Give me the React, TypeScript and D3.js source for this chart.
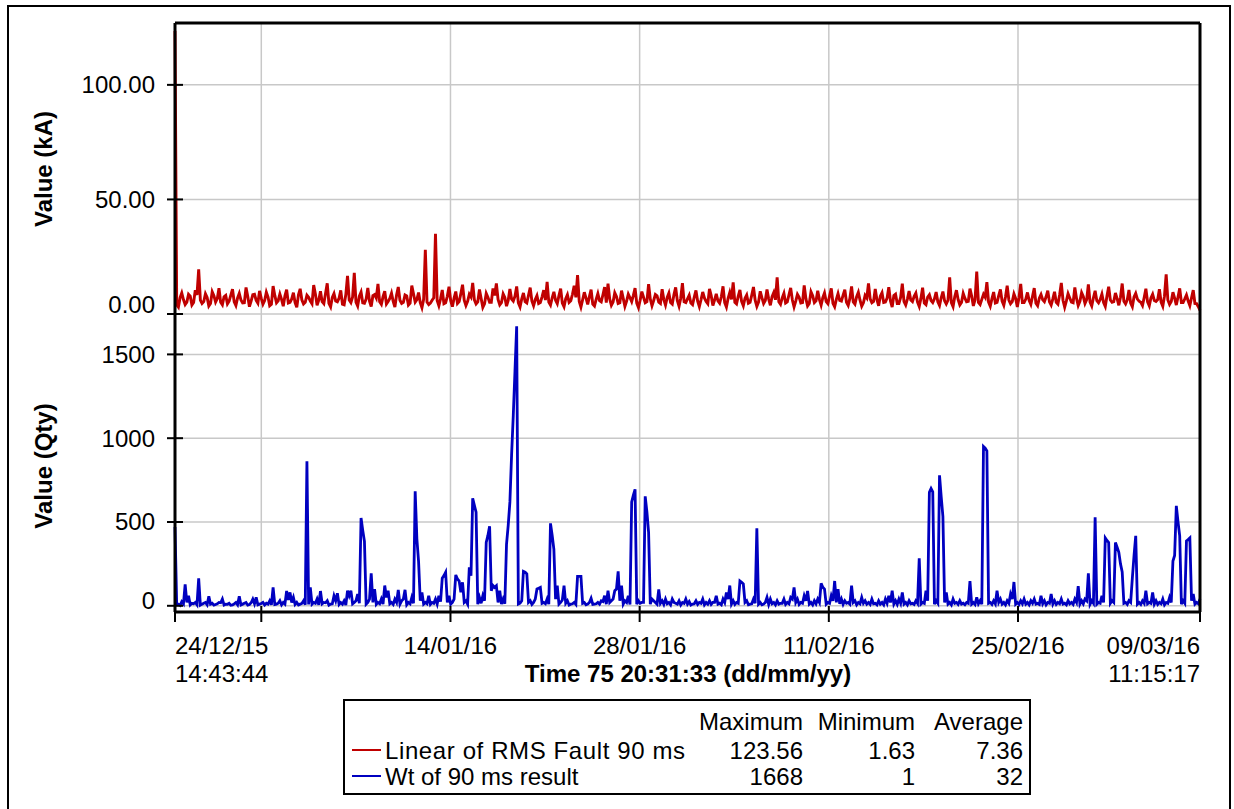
import React from 'react';
import * as d3 from 'd3';

// time span of the record
const startTime = Date.UTC(2015, 11, 24, 14, 43, 44);
const endTime = Date.UTC(2016, 2, 9, 11, 15, 17);

// two-weekly grid lines, first one has no label
const gridDates = [
  Date.UTC(2015, 11, 31),
  Date.UTC(2016, 0, 14),
  Date.UTC(2016, 0, 28),
  Date.UTC(2016, 1, 11),
  Date.UTC(2016, 1, 25)
];
const labelledDates = gridDates.slice(1);

const kaTicks = [0, 50, 100];
const qtyTicks = [0, 500, 1000, 1500];

// Linear of RMS Fault 90 ms (kA), evenly spaced samples over the record
const rmsFault = [
  123.56, 3.0, 9.2, 4.1, 8.6, 3.9, 10.4, 19.5, 4.6, 8.8, 3.5, 9.7, 5.2, 11.3, 4.0, 8.1,
  5.6, 10.8, 3.7, 9.0, 4.8, 11.6, 3.2, 8.4, 5.9, 10.1, 4.3, 9.5, 3.6, 12.2, 4.9, 8.7,
  3.4, 10.6, 5.1, 9.3, 2.9, 11.0, 4.4, 8.2, 5.7, 12.6, 3.8, 9.9, 4.5, 13.4, 3.1, 8.9,
  5.3, 10.3, 4.0, 16.6, 5.0, 18.0, 3.5, 9.6, 4.7, 11.4, 3.3, 8.5, 13.1, 4.2, 10.0, 5.5,
  9.1, 3.0, 11.8, 4.6, 8.3, 3.9, 12.4, 5.2, 9.4, 2.8, 28.0, 4.1, 6.0, 35.0, 3.6, 10.5,
  4.9, 11.9, 3.2, 9.8, 5.4, 12.8, 3.7, 8.6, 13.6, 4.4, 10.7, 2.9, 9.0, 5.1, 11.2, 13.3,
  4.0, 8.8, 3.4, 10.9, 5.6, 12.0, 3.1, 9.2, 4.8, 11.5, 3.6, 8.0, 5.0, 10.4, 14.0, 3.9,
  9.7, 4.5, 11.1, 3.2, 8.4, 5.8, 12.3, 17.0, 3.0, 9.5, 4.2, 10.6, 3.5, 8.9, 5.3, 11.7,
  13.2, 3.8, 9.3, 4.6, 10.2, 3.3, 8.7, 5.4, 11.3, 2.8, 9.8, 4.9, 13.0, 3.6, 8.5, 5.2,
  10.8, 3.9, 9.1, 4.3, 11.6, 3.4, 13.5, 5.0, 8.2, 4.1, 10.3, 3.2, 9.6, 5.5, 11.0, 3.7,
  8.8, 4.7, 12.1, 3.0, 9.4, 13.8, 4.4, 10.5, 3.6, 8.3, 5.1, 11.8, 3.3, 9.9, 4.6, 10.7,
  3.8, 9.4, 16.0, 4.2, 9.0, 5.3, 11.4, 3.1, 8.6, 4.8, 12.5, 3.5, 9.7, 5.0, 10.1, 3.9,
  9.2, 4.5, 11.2, 3.2, 8.9, 5.6, 10.6, 3.7, 12.0, 4.3, 9.5, 3.4, 8.1, 13.4, 4.9, 10.9,
  3.6, 9.3, 5.2, 11.7, 3.0, 8.7, 4.6, 13.2, 3.9, 10.0, 5.4, 9.1, 3.3, 11.5, 4.1, 8.4,
  5.0, 9.6, 3.7, 9.8, 4.4, 16.0, 3.2, 10.4, 4.0, 9.0, 5.3, 11.1, 3.5, 18.5, 4.1, 8.6,
  13.9, 3.4, 9.6, 5.1, 10.7, 3.8, 12.4, 4.5, 8.8, 3.1, 13.1, 5.0, 9.4, 4.2, 11.3, 3.6,
  8.5, 5.4, 10.2, 3.9, 9.7, 4.3, 13.6, 3.0, 8.9, 5.2, 11.6, 3.7, 9.3, 4.6, 12.9, 3.5,
  10.1, 4.9, 8.7, 3.3, 11.9, 5.1, 9.2, 3.8, 13.3, 4.4, 10.5, 3.2, 9.0, 5.6, 3.7, 11.0,
  3.6, 8.6, 5.5, 10.8, 3.4, 17.3, 4.2, 9.5, 3.9, 11.2, 5.0, 8.3, 3.7, 10.4, 4.5, 1.63
];

// readings taken half-way between the samples above
const rmsFaultMid = [
  4.0, 7.1, 6.3, 5.2, 7.8, 5.0, 8.3, 6.1, 5.4, 7.2, 4.6, 8.0, 6.7, 5.1, 7.5, 4.4,
  8.2, 5.3, 7.0, 6.1, 4.9, 7.7, 5.6, 8.6, 4.7, 6.8, 5.9, 7.4, 4.2, 8.1, 5.8, 6.4,
  7.9, 4.8, 6.6, 5.0, 8.4, 6.2, 5.1, 7.3, 4.5, 8.7, 6.0, 5.4, 9.0, 4.6, 7.2, 5.7,
  6.9, 4.3, 8.5, 6.1, 7.4, 5.2, 7.8, 4.9, 6.5, 5.6, 8.0, 7.0, 5.3, 7.6, 4.4, 6.8,
  5.5, 8.3, 6.0, 5.1, 7.9, 4.7, 8.8, 6.3, 5.0, 6.4, 5.2, 4.8, 7.1, 5.9, 6.6, 4.5,
  7.7, 5.8, 6.9, 4.6, 8.9, 6.0, 5.5, 7.4, 6.2, 5.3, 6.8, 4.4, 7.3, 5.1, 8.1, 6.4,
  5.0, 7.2, 5.9, 6.5, 7.8, 4.9, 6.6, 5.4, 8.2, 5.7, 6.3, 4.6, 7.5, 6.1, 5.2, 7.0,
  6.0, 8.0, 4.8, 6.7, 5.1, 8.6, 7.3, 5.5, 6.2, 6.9, 7.6, 4.3, 6.4, 5.8, 8.4, 5.0,
  6.6, 5.2, 7.7, 4.9, 6.8, 5.6, 7.1, 8.1, 4.7, 6.0, 7.3, 5.4, 6.5, 5.9, 7.9, 4.6,
  6.3, 7.2, 5.0, 8.5, 5.8, 6.9, 5.3, 6.6, 4.8, 7.4, 5.6, 6.2, 7.0, 4.5, 8.0, 6.1,
  5.7, 7.5, 4.9, 6.8, 6.4, 5.1, 7.8, 5.5, 6.9, 4.7, 8.3, 6.0, 5.2, 7.1, 5.9, 6.5,
  7.6, 6.2, 5.3, 7.0, 4.8, 8.4, 6.1, 5.6, 7.3, 5.0, 6.7, 4.6, 8.0, 5.8, 6.3, 7.1,
  5.4, 7.9, 4.7, 6.4, 5.9, 8.2, 5.1, 6.8, 5.3, 7.6, 6.0, 4.9, 7.0, 6.6, 5.5, 6.2,
  7.8, 5.0, 6.9, 5.7, 8.1, 4.6, 7.2, 5.4, 6.5, 6.1, 7.7, 5.2, 6.8, 4.8, 7.4, 5.9,
  6.6, 5.3, 7.1, 5.8, 6.0, 4.9, 7.5, 6.3, 5.1, 6.9, 5.5, 7.8, 6.2, 5.0, 6.4, 7.3,
  5.2, 6.7, 4.8, 8.0, 5.6, 7.4, 6.1, 5.4, 6.8, 7.2, 5.0, 6.5, 5.9, 7.7, 4.7, 6.9,
  6.2, 7.5, 5.3, 6.6, 5.1, 8.3, 6.0, 5.7, 7.0, 4.9, 6.8, 5.5, 7.6, 6.3, 5.2, 7.1,
  5.8, 6.4, 5.0, 7.9, 6.1, 5.4, 6.7, 7.3, 5.6, 6.2, 4.8, 7.4, 6.5, 5.1, 7.2, 5.3,
  7.0, 5.9, 6.3, 5.2, 7.8, 6.1, 5.5, 6.9, 7.4, 5.0, 6.6, 5.7, 7.1, 4.6, 3.2
];

// Wt of 90 ms result (Qty), same sample times
const wtResult = [
  470, 10, 25, 128, 60, 15, 20, 164, 10, 20, 57, 15, 8, 20, 40, 10,
  15, 5, 20, 57, 10, 20, 8, 40, 50, 10, 20, 15, 30, 110, 10, 30,
  20, 88, 80, 50, 20, 10, 30, 862, 110, 20, 40, 88, 20, 30, 10, 60,
  75, 20, 30, 90, 90, 20, 70, 524, 385, 20, 194, 100, 20, 40, 121, 90,
  20, 40, 95, 30, 95, 20, 50, 683, 265, 80, 20, 60, 20, 40, 60, 165,
  200, 60, 20, 184, 148, 140, 30, 230, 641, 558, 50, 60, 378, 474, 121, 120,
  90, 40, 367, 620, 1137, 1668, 15, 205, 190, 30, 20, 100, 110, 20, 40, 492,
  337, 120, 20, 120, 30, 10, 20, 175, 175, 20, 10, 45, 10, 20, 30, 60,
  90, 30, 90, 205, 121, 30, 60, 620, 695, 30, 20, 653, 438, 40, 20, 98,
  30, 40, 20, 40, 15, 30, 20, 40, 25, 10, 30, 20, 40, 20, 30, 20,
  60, 15, 40, 80, 121, 30, 20, 148, 130, 30, 10, 40, 462, 20, 10, 50,
  40, 20, 30, 15, 40, 20, 50, 110, 40, 20, 60, 88, 20, 30, 40, 134,
  100, 20, 60, 148, 100, 40, 30, 20, 121, 30, 20, 50, 30, 20, 40, 15,
  30, 20, 40, 60, 90, 30, 40, 80, 20, 30, 15, 30, 283, 20, 90, 677,
  680, 30, 779, 533, 80, 20, 40, 20, 30, 15, 20, 148, 20, 50, 30, 950,
  924, 20, 30, 90, 40, 20, 30, 70, 142, 20, 30, 40, 20, 30, 40, 15,
  60, 30, 20, 70, 30, 20, 40, 15, 30, 20, 40, 118, 30, 40, 194, 30,
  528, 20, 60, 405, 378, 30, 378, 319, 202, 20, 30, 165, 417, 20, 30, 90,
  20, 80, 30, 20, 40, 20, 50, 267, 596, 417, 30, 387, 405, 70, 20, 40
];

const wtResultMid = [
  8, 3, 12, 20, 5, 12, 6, 4, 15, 6, 10, 4, 12, 18, 5, 9,
  3, 12, 6, 5, 15, 4, 18, 12, 6, 14, 5, 10, 6, 8, 15, 6,
  10, 35, 20, 8, 5, 14, 6, 8, 10, 15, 6, 12, 18, 4, 12, 30,
  8, 10, 5, 60, 12, 30, 15, 450, 10, 40, 20, 8, 12, 10, 50, 12,
  8, 20, 10, 40, 6, 12, 15, 400, 30, 10, 12, 8, 15, 10, 25, 180,
  20, 10, 40, 160, 80, 20, 10, 180, 600, 10, 15, 30, 420, 90, 110, 20,
  10, 12, 480, 900, 1400, 10, 30, 200, 20, 8, 40, 105, 15, 12, 10, 420,
  40, 10, 35, 15, 5, 12, 8, 175, 15, 6, 20, 8, 12, 10, 25, 10,
  20, 40, 100, 30, 10, 20, 8, 660, 10, 15, 20, 560, 10, 30, 10, 15,
  8, 12, 6, 20, 10, 5, 15, 10, 4, 12, 8, 15, 6, 10, 8, 20,
  10, 6, 20, 40, 10, 8, 15, 140, 20, 6, 12, 15, 10, 6, 20, 8,
  12, 6, 10, 15, 8, 12, 40, 20, 8, 15, 30, 10, 6, 12, 20, 110,
  10, 15, 30, 20, 12, 8, 15, 10, 20, 6, 12, 15, 10, 8, 12, 6,
  10, 6, 15, 20, 10, 8, 15, 10, 6, 12, 8, 15, 10, 15, 30, 700,
  10, 15, 650, 20, 10, 6, 15, 8, 10, 6, 15, 10, 8, 12, 10, 940,
  15, 8, 12, 20, 10, 6, 15, 40, 10, 8, 12, 10, 6, 15, 10, 8,
  12, 6, 15, 10, 8, 12, 10, 6, 12, 8, 20, 10, 12, 30, 10, 15,
  10, 15, 20, 390, 15, 20, 350, 250, 15, 8, 20, 300, 10, 8, 15, 12,
  15, 10, 8, 12, 6, 15, 20, 300, 500, 10, 15, 395, 30, 10, 12
];

const seriesNames = ['Linear of RMS Fault 90 ms', 'Wt of 90 ms result'];
const statHeaders = ['Maximum', 'Minimum', 'Average'];
const statMax = ['123.56', '1668'];
const statMin = ['1.63', '1'];
const statAvg = ['7.36', '32'];

const RED = '#c00000';
const BLUE = '#0000c0';
const GRID = '#c8c8c8';
const FONT = "'Liberation Sans', Arial, sans-serif";

// put the half-way readings between the main samples
function weave(main: number[], mid: number[]) {
  return main.flatMap((v, i) => (i < mid.length ? [v, mid[i]] : [v]));
}

export default function App() {
  const left = 175, right = 1200, top = 23, mid = 314, bottom = 612;

  const x = d3.scaleTime().domain([startTime, endTime]).range([left, right]);
  const yKa = d3.scaleLinear().domain([0, 127]).range([mid, top]);
  const yQty = d3.scaleLinear().domain([-37, 1741]).range([bottom, mid]);

  const redData = weave(rmsFault, rmsFaultMid);
  const blueData = weave(wtResult, wtResultMid);
  const step = (endTime - startTime) / (redData.length - 1);
  const timeAt = (i: number) => startTime + i * step;

  const redLine = d3.line<number>().x((d, i) => x(timeAt(i))).y(d => yKa(d));
  const blueLine = d3.line<number>().x((d, i) => x(timeAt(i))).y(d => yQty(d));

  const fmtDate = d3.utcFormat('%d/%m/%y');
  const fmtTime = d3.utcFormat('%H:%M:%S');

  const allTicksX = [startTime, ...gridDates, endTime];
  const colRight = [803, 915, 1023];
  const rowY = [759, 785];

  return (
    <svg width={1234} height={809} style={{ position: 'absolute', left: 0, top: 0 }} fontFamily={FONT}>
      <rect x={0} y={0} width={1234} height={809} fill="#fff" />
      <rect x={8} y={6} width={1222} height={820} fill="none" stroke="#000" strokeWidth={2} />

      {/* grid */}
      {gridDates.map(d => (
        <line key={'gv' + d} x1={x(d)} x2={x(d)} y1={top} y2={bottom} stroke={GRID} strokeWidth={1.5} />
      ))}
      {kaTicks.map(v => (
        <line key={'gk' + v} x1={left} x2={right} y1={yKa(v)} y2={yKa(v)} stroke={GRID} strokeWidth={1.5} />
      ))}
      {qtyTicks.map(v => (
        <line key={'gq' + v} x1={left} x2={right} y1={yQty(v)} y2={yQty(v)} stroke={GRID} strokeWidth={1.5} />
      ))}

      {/* series */}
      <path d={redLine(redData) || ''} fill="none" stroke={RED} strokeWidth={2.9} strokeLinejoin="miter" />
      <path d={blueLine(blueData) || ''} fill="none" stroke={BLUE} strokeWidth={2.8} strokeLinejoin="miter" />

      {/* frame and axes */}
      <line x1={left} x2={right} y1={top} y2={top} stroke="#000" strokeWidth={3} />
      <line x1={right} x2={right} y1={top} y2={bottom} stroke="#000" strokeWidth={3} />
      <line x1={left} x2={left} y1={top} y2={bottom} stroke="#000" strokeWidth={3} />
      <line x1={left} x2={right} y1={bottom} y2={bottom} stroke="#000" strokeWidth={3} />

      {kaTicks.map(v => (
        <g key={'tk' + v}>
          <line x1={left - 8} x2={left + 8} y1={yKa(v)} y2={yKa(v)} stroke="#000" strokeWidth={2} />
          <text x={155} y={yKa(v) + (v === 0 ? -9 : 0)} dy="0.35em" textAnchor="end" fontSize={24}>
            {v.toFixed(2)}
          </text>
        </g>
      ))}
      {qtyTicks.map(v => (
        <g key={'tq' + v}>
          <line x1={left - 8} x2={left + 8} y1={yQty(v)} y2={yQty(v)} stroke="#000" strokeWidth={2} />
          <text x={155} y={yQty(v) + (v === 0 ? -5 : 0)} dy="0.35em" textAnchor="end" fontSize={24}>
            {v}
          </text>
        </g>
      ))}

      {allTicksX.map(d => (
        <line key={'tx' + d} x1={x(d)} x2={x(d)} y1={bottom - 6} y2={bottom + 10} stroke="#000" strokeWidth={2} />
      ))}
      {labelledDates.map(d => (
        <text key={'lx' + d} x={x(d)} y={654} textAnchor="middle" fontSize={24}>{fmtDate(d)}</text>
      ))}
      <text x={left} y={654} textAnchor="start" fontSize={24}>{fmtDate(startTime)}</text>
      <text x={left} y={682} textAnchor="start" fontSize={24}>{fmtTime(startTime)}</text>
      <text x={right} y={654} textAnchor="end" fontSize={24}>{fmtDate(endTime)}</text>
      <text x={right} y={682} textAnchor="end" fontSize={24}>{fmtTime(endTime)}</text>

      <text x={688} y={682} textAnchor="middle" fontSize={24} fontWeight="bold">Time 75 20:31:33 (dd/mm/yy)</text>
      <text transform="translate(44,169) rotate(-90)" dy="0.35em" textAnchor="middle" fontSize={24} fontWeight="bold">Value (kA)</text>
      <text transform="translate(44,466) rotate(-90)" dy="0.35em" textAnchor="middle" fontSize={24} fontWeight="bold">Value (Qty)</text>

      {/* legend */}
      <rect x={344} y={700} width={686} height={94} fill="#fff" stroke="#000" strokeWidth={2} />
      {statHeaders.map((h, i) => (
        <text key={h} x={colRight[i]} y={730} textAnchor="end" fontSize={24}>{h}</text>
      ))}
      {seriesNames.map((name, r) => (
        <g key={name}>
          <line x1={352} x2={381} y1={rowY[r] - 9} y2={rowY[r] - 9} stroke={r === 0 ? RED : BLUE} strokeWidth={2} />
          <text x={385} y={rowY[r]} fontSize={24} textLength={name.length > 20 ? 300 : undefined}>{name}</text>
          <text x={colRight[0]} y={rowY[r]} textAnchor="end" fontSize={24}>{statMax[r]}</text>
          <text x={colRight[1]} y={rowY[r]} textAnchor="end" fontSize={24}>{statMin[r]}</text>
          <text x={colRight[2]} y={rowY[r]} textAnchor="end" fontSize={24}>{statAvg[r]}</text>
        </g>
      ))}
    </svg>
  );
}
